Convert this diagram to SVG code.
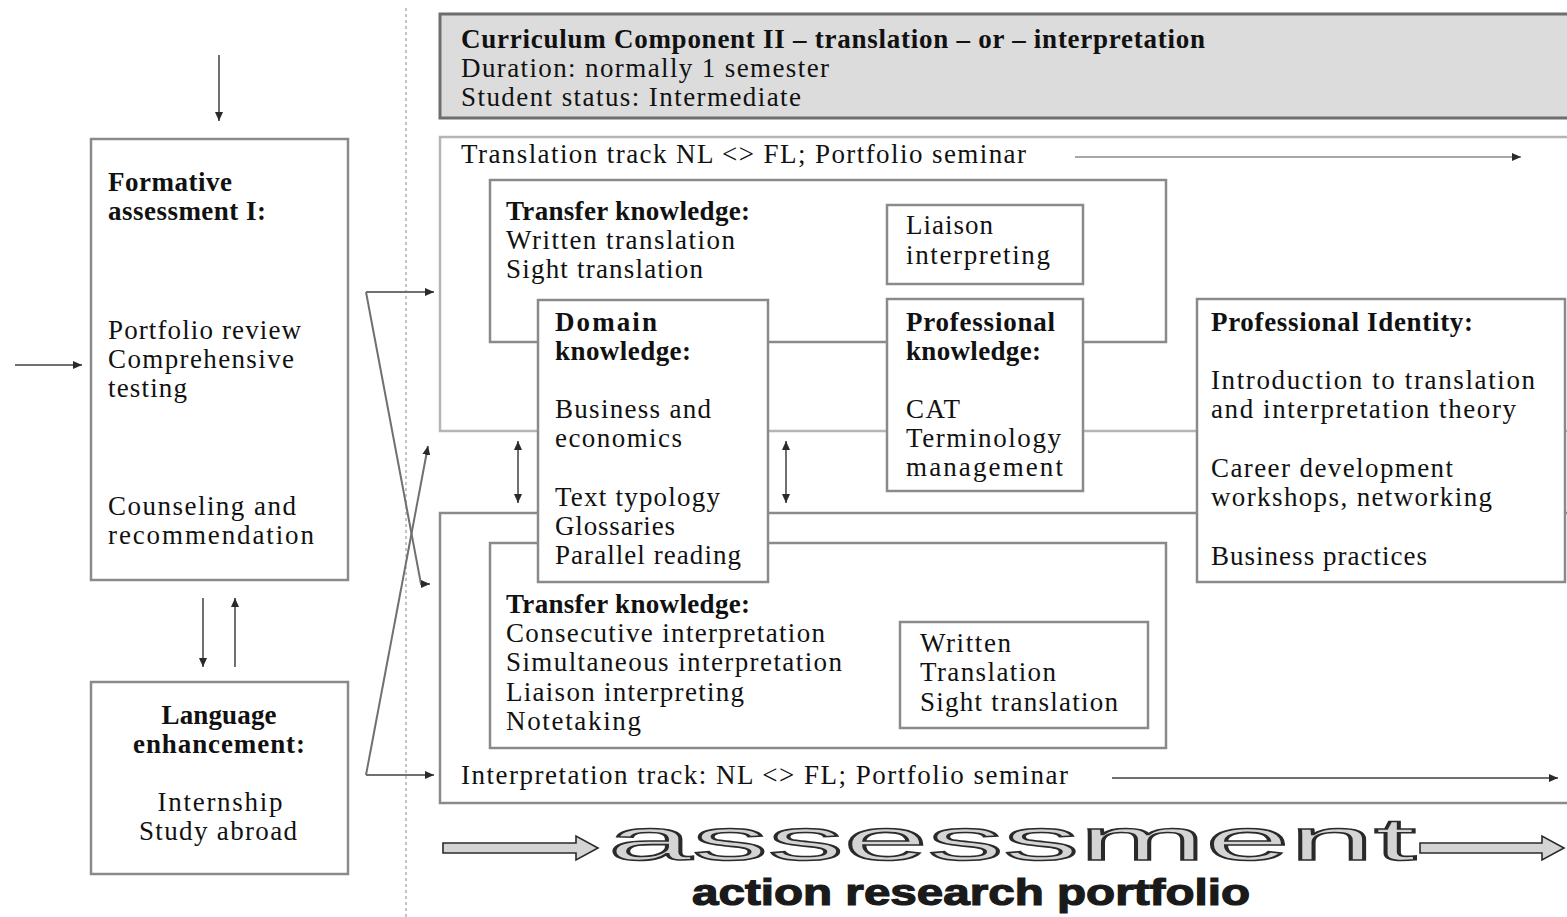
<svg xmlns="http://www.w3.org/2000/svg" width="1567" height="917" viewBox="0 0 1567 917">
  <style>
    .bx { fill: #ffffff; stroke: #8a8a8a; stroke-width: 2.5; }
    .bxl { fill: none; stroke: #b5b5b5; stroke-width: 2.5; }
    .bxm { fill: none; stroke: #8a8a8a; stroke-width: 2.5; }
    .hdr { fill: #dcdcdc; stroke: #6e6e6e; stroke-width: 3; }
    text { font-family: "Liberation Serif", "Times New Roman", serif; font-size: 27px; fill: #111; }
    .b { font-weight: bold; }
    .mid { text-anchor: middle; }
    .ln { fill: none; stroke: #707070; stroke-width: 2; }
    .lnl { fill: none; stroke: #a8a8a8; stroke-width: 2; }
    .big { font-family: "Liberation Sans", Arial, sans-serif; font-size: 60px; fill: #d4d4d4; stroke: #2a2a2a; stroke-width: 1.6; }
    .sub { font-family: "Liberation Sans", Arial, sans-serif; font-size: 37px; font-weight: bold; fill: #1a1a1a; stroke: #1a1a1a; stroke-width: 1.2; }
    .hollow { fill: #d4d4d4; stroke: #2a2a2a; stroke-width: 1.6; }
  </style>
  <defs>
    <marker id="ah" markerUnits="userSpaceOnUse" markerWidth="9" markerHeight="8" refX="9" refY="4" orient="auto-start-reverse">
      <path d="M0,0 L9,4 L0,8 z" fill="#2a2a2a"/>
    </marker>
  </defs>

  <rect width="1567" height="917" fill="#ffffff"/>

  <!-- dotted separator -->
  <line x1="406" y1="8" x2="406" y2="917" stroke="#b0b0b0" stroke-width="1.5" stroke-dasharray="3,3"/>

  <!-- header -->
  <g id="header">
    <rect class="hdr" x="440" y="14" width="1140" height="104"/>
    <text class="b" x="461" y="48" textLength="744">Curriculum Component II – translation – or – interpretation</text>
    <text x="461" y="77" textLength="368">Duration: normally 1 semester</text>
    <text x="461" y="106" textLength="340">Student status: Intermediate</text>
  </g>

  <!-- track frames -->
  <g id="translation-track">
    <rect class="bxl" x="440" y="137" width="1140" height="294"/>
    <text x="461" y="163" textLength="565">Translation track NL &lt;&gt; FL; Portfolio seminar</text>
  </g>
  <g id="interpretation-track">
    <rect class="bxm" x="440" y="513" width="1140" height="290"/>
    <text x="461" y="784" textLength="607">Interpretation track: NL &lt;&gt; FL; Portfolio seminar</text>
  </g>

  <!-- transfer knowledge (translation) -->
  <g id="transfer-translation">
    <rect class="bx" x="490" y="180" width="676" height="162"/>
    <text class="b" x="506" y="220" textLength="244">Transfer knowledge:</text>
    <text x="506" y="249" textLength="229">Written translation</text>
    <text x="506" y="278" textLength="197">Sight translation</text>
  </g>

  <!-- transfer knowledge (interpretation) -->
  <g id="transfer-interpretation">
    <rect class="bx" x="490" y="543" width="676" height="205"/>
    <text class="b" x="506" y="613" textLength="244">Transfer knowledge:</text>
    <text x="506" y="642" textLength="319">Consecutive interpretation</text>
    <text x="506" y="671" textLength="336">Simultaneous interpretation</text>
    <text x="506" y="701" textLength="238">Liaison interpreting</text>
    <text x="506" y="730" textLength="135">Notetaking</text>
  </g>

  <g id="liaison">
    <rect class="bx" x="887" y="205" width="196" height="79"/>
    <text x="906" y="234" textLength="87">Liaison</text>
    <text x="906" y="264" textLength="144">interpreting</text>
  </g>

  <g id="written">
    <rect class="bx" x="900" y="622" width="248" height="106"/>
    <text x="920" y="652" textLength="91">Written</text>
    <text x="920" y="681" textLength="136">Translation</text>
    <text x="920" y="711" textLength="198">Sight translation</text>
  </g>

  <g id="domain">
    <rect class="bx" x="538" y="300" width="230" height="282"/>
    <text class="b" x="555" y="331" textLength="102">Domain</text>
    <text class="b" x="555" y="360" textLength="136">knowledge:</text>
    <text x="555" y="418" textLength="156">Business and</text>
    <text x="555" y="447" textLength="127">economics</text>
    <text x="555" y="506" textLength="165">Text typology</text>
    <text x="555" y="535" textLength="120">Glossaries</text>
    <text x="555" y="564" textLength="186">Parallel reading</text>
  </g>

  <g id="professional">
    <rect class="bx" x="887" y="299" width="196" height="192"/>
    <text class="b" x="906" y="331" textLength="149">Professional</text>
    <text class="b" x="906" y="360" textLength="135">knowledge:</text>
    <text x="906" y="418" textLength="54">CAT</text>
    <text x="906" y="447" textLength="155">Terminology</text>
    <text x="906" y="476" textLength="157">management</text>
  </g>

  <g id="identity">
    <rect class="bx" x="1197" y="299" width="368" height="283"/>
    <text class="b" x="1211" y="331" textLength="262">Professional Identity:</text>
    <text x="1211" y="389" textLength="324">Introduction to translation</text>
    <text x="1211" y="418" textLength="305">and interpretation theory</text>
    <text x="1211" y="477" textLength="242">Career development</text>
    <text x="1211" y="506" textLength="281">workshops, networking</text>
    <text x="1211" y="565" textLength="216">Business practices</text>
  </g>

  <g id="formative">
    <rect class="bx" x="91" y="139" width="257" height="441"/>
    <text class="b" x="108" y="191" textLength="124">Formative</text>
    <text class="b" x="108" y="220" textLength="158">assessment I:</text>
    <text x="108" y="339" textLength="193">Portfolio review</text>
    <text x="108" y="368" textLength="186">Comprehensive</text>
    <text x="108" y="397" textLength="79">testing</text>
    <text x="108" y="515" textLength="188">Counseling and</text>
    <text x="108" y="544" textLength="206">recommendation</text>
  </g>

  <g id="language">
    <rect class="bx" x="91" y="682" width="257" height="192"/>
    <text class="b" x="219" y="724" text-anchor="middle" textLength="115">Language</text>
    <text class="b" x="219" y="753" text-anchor="middle" textLength="172">enhancement:</text>
    <text x="220" y="811" text-anchor="middle" textLength="125">Internship</text>
    <text x="218" y="840" text-anchor="middle" textLength="158">Study abroad</text>
  </g>

  <!-- connectors -->
  <g id="connectors">
    <line class="ln" x1="219" y1="55" x2="219" y2="121" marker-end="url(#ah)"/>
    <line class="ln" x1="15" y1="365" x2="82" y2="365" marker-end="url(#ah)"/>
    <line class="ln" x1="203" y1="598" x2="203" y2="667" marker-end="url(#ah)"/>
    <line class="ln" x1="235" y1="667" x2="235" y2="598" marker-end="url(#ah)"/>

    <path class="ln" d="M366,292 H434" marker-end="url(#ah)"/>
    <path class="ln" d="M366,292 L421,584 H430" marker-end="url(#ah)"/>
    <path class="ln" d="M366,775 L428,446" marker-end="url(#ah)"/>
    <path class="ln" d="M366,775 H434" marker-end="url(#ah)"/>

    <line class="ln" x1="518" y1="441" x2="518" y2="503" marker-start="url(#ah)" marker-end="url(#ah)"/>
    <line class="ln" x1="786" y1="441" x2="786" y2="503" marker-start="url(#ah)" marker-end="url(#ah)"/>

    <line class="lnl" x1="1075" y1="157" x2="1521" y2="157" marker-end="url(#ah)"/>
    <line class="ln" x1="1112" y1="778" x2="1558" y2="778" marker-end="url(#ah)"/>
  </g>

  <!-- assessment banner -->
  <g id="assessment">
    <polygon class="hollow" points="443,843 576,843 576,836 598,848 576,860 576,853 443,853"/>
    <text class="big" x="608" y="860" textLength="808" lengthAdjust="spacingAndGlyphs">assessment</text>
    <polygon class="hollow" points="1420,843 1542,843 1542,836 1564,848 1542,860 1542,853 1420,853"/>
    <text class="sub" x="692" y="905" textLength="558" lengthAdjust="spacingAndGlyphs">action research portfolio</text>
  </g>
</svg>
